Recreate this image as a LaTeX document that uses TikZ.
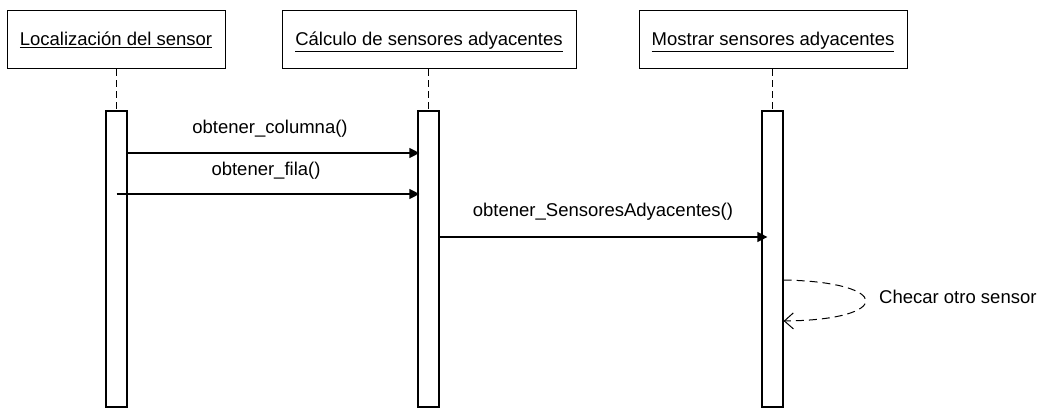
\documentclass[tikz,border=0pt]{standalone}
\usepackage{fontspec}
\setmainfont{Liberation Sans}
\usetikzlibrary{arrows.meta}
\begin{document}
\begin{tikzpicture}[x=1pt,y=-1pt,
  font=\fontsize{18.5}{21}\selectfont,
  header/.style={draw, line width=1pt, minimum height=58pt, inner sep=0pt, text height=14pt, text depth=2pt},
  actbox/.style={draw, line width=1.2pt, fill=white, minimum width=21pt, minimum height=296pt, inner sep=0pt},
  lifeline/.style={line width=1pt, dash pattern=on 7pt off 4pt},
  msg/.style={line width=1.2pt, -{Triangle[length=10pt,width=10pt]}},
  selfmsg/.style={line width=1pt, dash pattern=on 8pt off 5pt, -{Straight Barb[length=9pt,width=16pt,line width=1pt]}},
  lbl/.style={anchor=base, inner sep=0pt}]
\useasboundingbox (0,0) rectangle (1045,409);
% headers
\node[header, minimum width=218pt] (h1) at (116,40) {\underline{Localización del sensor}};
\node[header, minimum width=294pt] (h2) at (429,40) {\underline{Cálculo de sensores adyacentes}};
\node[header, minimum width=268pt] (h3) at (773,40) {\underline{Mostrar sensores adyacentes}};
% activation boxes
\node[actbox] (a1) at (116.5,259) {};
\node[actbox] (a2) at (428.5,259) {};
\node[actbox] (a3) at (772.5,259) {};
% lifelines
\draw[lifeline] (h1.south -| a1.north) -- (a1.north);
\draw[lifeline] (h2.south -| a2.north) -- (a2.north);
\draw[lifeline] (h3.south -| a3.north) -- (a3.north);
% messages
\coordinate (m1s) at (a1.east |- 0,153);
\coordinate (m1e) at (a2.west |- 0,153);
\draw[msg, shorten >=-2pt] (m1s) -- (m1e);
\node[lbl] (l1) at (270,134) {obtener\_columna()};
\coordinate (m2s) at (a1.center |- 0,194);
\coordinate (m2e) at (a2.west |- 0,194);
\draw[msg, shorten >=-2pt] (m2s) -- (m2e);
\node[lbl] (l2) at (266,176) {obtener\_fila()};
\coordinate (m3s) at (a2.east |- 0,237);
\coordinate (m3e) at (a3.west |- 0,237);
\draw[msg, shorten >=-6pt] (m3s) -- (m3e);
\node[lbl] (l3) at (603,217) {obtener\_SensoresAdyacentes()};
% self message
\coordinate (s1) at (a3.east |- 0,280);
\coordinate (s2) at (a3.east |- 0,321);
\draw[selfmsg] (s1) .. controls (893,282) and (893,320) .. (s2);
\node[lbl, anchor=base west] (l4) at (879,303) {Checar otro sensor};
\end{tikzpicture}
\end{document}
